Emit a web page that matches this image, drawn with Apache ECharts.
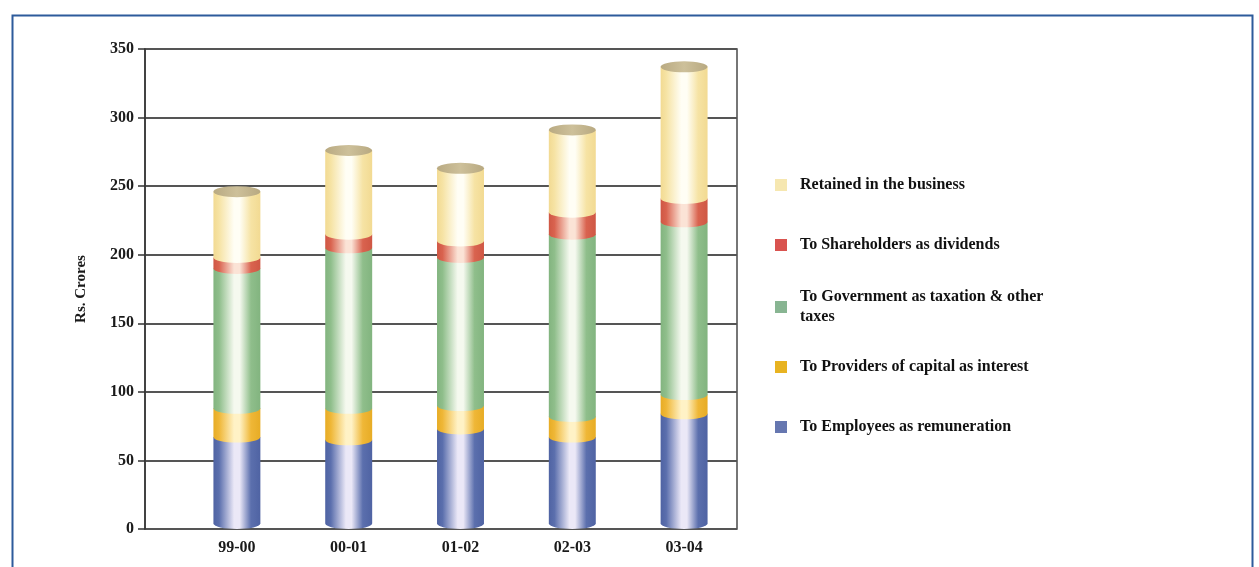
<!DOCTYPE html>
<html>
<head>
<meta charset="utf-8">
<title>Distribution of value added</title>
<script src="https://cdn.jsdelivr.net/npm/echarts@6/dist/echarts.min.js"></script>
<style>
  html, body { margin: 0; padding: 0; background: #ffffff; }
  #chart { width: 1259px; height: 567px; }
</style>
</head>
<body>
<div id="chart"></div>
<script>
// Financial years on the category axis
const years = ['99-00', '00-01', '01-02', '02-03', '03-04'];

// Rs. Crores per component, bottom of the stack first
const employees  = [67, 65, 73, 67, 84];
const interest   = [21, 23, 17, 15, 14];
const government = [102, 117, 108, 133, 126];
const dividends  = [8, 10, 12, 16, 17];
const retained   = [48, 61, 53, 60, 96];

// Value axis range and step
const yMin = 0;
const yMax = 350;
const yStep = 50;

const GOV_NAME = 'To Government as taxation & other taxes';

// Stack order (bottom to top) with the cylinder shading for each part
const parts = [
  { name: 'To Employees as remuneration',        values: employees,  edge: '#5b6fad', dark: '#4f63a3', light: '#ebe8f7', swatch: '#6677b0' },
  { name: 'To Providers of capital as interest', values: interest,   edge: '#efb737', dark: '#e7ac25', light: '#fff2c6', swatch: '#e8b321' },
  { name: GOV_NAME,                              values: government, edge: '#8fbe8b', dark: '#82b47f', light: '#f5f9ef', swatch: '#88b592' },
  { name: 'To Shareholders as dividends',        values: dividends,  edge: '#d9634f', dark: '#cf5744', light: '#fbe3d6', swatch: '#d9534f' },
  { name: 'Retained in the business',            values: retained,   edge: '#f6e3a4', dark: '#f2da92', light: '#fffef5', swatch: '#f6e7b0' }
];

// Cumulative bottoms/tops for each stacked segment
const running = years.map(() => 0);
parts.forEach(p => {
  p.data = p.values.map((v, i) => {
    const lo = running[i];
    running[i] += v;
    return [i, lo, running[i]];
  });
});

function bodyGradient(p) {
  return new echarts.graphic.LinearGradient(0, 0, 1, 0, [
    { offset: 0,    color: p.dark },
    { offset: 0.12, color: p.edge },
    { offset: 0.44, color: p.light },
    { offset: 0.56, color: p.light },
    { offset: 0.80, color: p.edge },
    { offset: 1,    color: p.dark }
  ]);
}

const capGradient = new echarts.graphic.LinearGradient(0, 0, 1, 0, [
  { offset: 0,   color: '#b9aa82' },
  { offset: 0.5, color: '#cdc09a' },
  { offset: 1,   color: '#b8a981' }
]);

function makeRenderer(p, isBottom, isTop) {
  const fill = bodyGradient(p);
  return function (params, api) {
    const c = api.value(0);
    const pLo = api.coord([c, api.value(1)]);
    const pHi = api.coord([c, api.value(2)]);
    const band = api.size([1, 0])[0];
    const rx = band * 0.42 / 2;
    const ry = 5.5;
    const x1 = pLo[0] - rx;
    const x2 = pLo[0] + rx;
    const yLo = isBottom ? pLo[1] - ry : pLo[1];
    const yHi = pHi[1];
    const body = 'M' + x1 + ' ' + yHi + ' L' + x2 + ' ' + yHi + ' L' + x2 + ' ' + yLo +
      ' A' + rx + ' ' + ry + ' 0 0 1 ' + x1 + ' ' + yLo + ' Z';
    const children = [{ type: 'path', shape: { pathData: body }, style: { fill: fill } }];
    if (isTop) {
      const cap = 'M' + x1 + ' ' + yHi + ' A' + rx + ' ' + ry + ' 0 1 0 ' + x2 + ' ' + yHi +
        ' A' + rx + ' ' + ry + ' 0 1 0 ' + x1 + ' ' + yHi + ' Z';
      children.push({ type: 'path', shape: { pathData: cap }, style: { fill: capGradient } });
    }
    return { type: 'group', children: children };
  };
}

const series = parts.map((p, k) => ({
  name: p.name,
  type: 'custom',
  xAxisIndex: 1,
  yAxisIndex: 1,
  itemStyle: { color: p.swatch },
  encode: { x: 0, y: [1, 2] },
  data: p.data,
  renderItem: makeRenderer(p, k === 0, k === parts.length - 1),
  silent: true
}));

// One legend block per entry, listed top to bottom
const legendOrder = parts.slice().reverse();
const legendCenters = [185, 245, 307, 367, 427];
const legendFont = { fontFamily: 'Liberation Serif', fontSize: 16, fontWeight: 'bold', color: '#111', lineHeight: 20 };
const legends = legendOrder.map((p, i) => {
  const twoLine = p.name === GOV_NAME;
  return {
    left: 775,
    top: legendCenters[i] - (twoLine ? 30 : 10),
    orient: 'vertical',
    padding: 0,
    icon: 'rect',
    itemWidth: 12,
    itemHeight: 12,
    selectedMode: false,
    data: [p.name],
    formatter: name => name === GOV_NAME ? 'To Government as taxation & other\ntaxes' : name,
    textStyle: Object.assign({}, legendFont, { padding: twoLine ? [20, 0, 0, 8] : [0, 0, 0, 8] })
  };
});

const labelFont = { fontFamily: 'Liberation Serif', fontSize: 16, fontWeight: 'bold', color: '#1a1a1a' };

const option = {
  backgroundColor: '#ffffff',
  animation: false,
  legend: legends,
  grid: [
    { left: 145, top: 49, width: 592, height: 480, show: true, borderColor: '#4a4a4a', borderWidth: 1.5, backgroundColor: 'transparent' },
    { left: 181, top: 49, width: 559, height: 480 }
  ],
  xAxis: [
    { gridIndex: 0, type: 'category', data: years, show: false },
    {
      gridIndex: 1, type: 'category', data: years,
      axisLine: { show: false }, axisTick: { show: false },
      axisLabel: Object.assign({ margin: 11 }, labelFont)
    }
  ],
  yAxis: [
    {
      gridIndex: 0, type: 'value', min: yMin, max: yMax, interval: yStep,
      name: 'Rs. Crores', nameLocation: 'middle', nameRotate: 90, nameGap: 56,
      nameTextStyle: { fontFamily: 'Liberation Serif', fontSize: 15, fontWeight: 'bold', color: '#1a1a1a' },
      axisLine: { show: true, lineStyle: { color: '#333', width: 1.5 } },
      axisTick: { show: true, length: 7, lineStyle: { color: '#333', width: 1.5 } },
      axisLabel: Object.assign({ margin: 11 }, labelFont),
      splitLine: { show: true, lineStyle: { color: '#555', width: 2 } }
    },
    { gridIndex: 1, type: 'value', min: yMin, max: yMax, interval: yStep, show: false, splitLine: { show: false } }
  ],
  graphic: [
    {
      type: 'rect', left: 10, top: 13, z: 100, silent: true,
      shape: { width: 1240, height: 600 },
      style: { fill: 'none', stroke: '#2d5b9b', lineWidth: 2 }
    }
  ],
  series: series
};

const chart = echarts.init(document.getElementById('chart'), null, { renderer: 'canvas' });
chart.setOption(option);
</script>
</body>
</html>
